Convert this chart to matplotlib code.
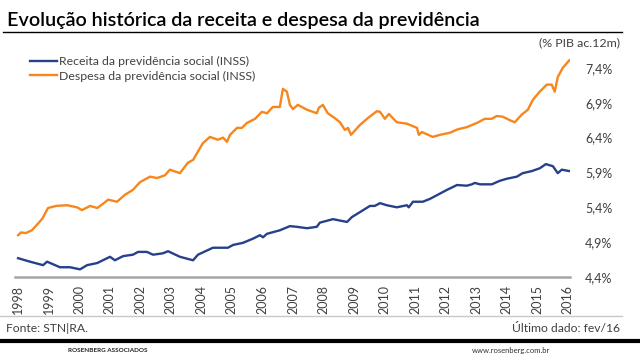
import matplotlib
matplotlib.use('Agg')
import matplotlib.pyplot as plt
from matplotlib.lines import Line2D

plt.rcParams['font.family'] = ['Lato', 'DejaVu Sans']

# ---------------------------------------------------------
# Data (% PIB, accumulated 12 months)
# ---------------------------------------------------------
desp_t = [1998.00, 1998.10, 1998.25, 1998.45, 1998.62, 1998.80, 1998.98, 1999.25, 1999.60,
          1999.93, 2000.09, 2000.36, 2000.59, 2000.78, 2000.95, 2001.24, 2001.50,
          2001.76, 2001.99, 2002.32, 2002.55, 2002.81, 2002.97, 2003.30, 2003.56,
          2003.73, 2004.05, 2004.28, 2004.54, 2004.71, 2004.84, 2004.94, 2005.17,
          2005.33, 2005.49, 2005.76, 2005.98, 2006.15, 2006.34, 2006.57, 2006.67,
          2006.80, 2006.90, 2007.00, 2007.16, 2007.46, 2007.78, 2007.85, 2007.98,
          2008.14, 2008.37, 2008.54, 2008.70, 2008.80, 2008.90, 2009.19, 2009.45,
          2009.75, 2009.85, 2010.01, 2010.14, 2010.40, 2010.73, 2011.06, 2011.12,
          2011.22, 2011.58, 2011.81, 2012.14, 2012.40, 2012.69, 2013.02, 2013.28,
          2013.51, 2013.67, 2013.87, 2014.10, 2014.26, 2014.49, 2014.69, 2014.85,
          2015.08, 2015.31, 2015.47, 2015.57, 2015.67, 2015.83, 2016.05]
desp_v = [5.00, 5.04, 5.03, 5.07, 5.15, 5.24, 5.39, 5.42, 5.43,
          5.40, 5.36, 5.42, 5.39, 5.45, 5.51, 5.48, 5.58,
          5.65, 5.76, 5.84, 5.82, 5.86, 5.94, 5.89, 6.04,
          6.08, 6.32, 6.41, 6.37, 6.40, 6.34, 6.44, 6.54,
          6.54, 6.61, 6.67, 6.77, 6.75, 6.84, 6.84, 7.10,
          7.06, 6.87, 6.81, 6.87, 6.80, 6.75, 6.83, 6.87,
          6.75, 6.68, 6.62, 6.51, 6.54, 6.44, 6.58, 6.68,
          6.78, 6.77, 6.67, 6.74, 6.62, 6.60, 6.54, 6.44,
          6.48, 6.41, 6.44, 6.47, 6.52, 6.55, 6.61, 6.67,
          6.67, 6.71, 6.70, 6.65, 6.62, 6.73, 6.80, 6.94,
          7.06, 7.16, 7.16, 7.06, 7.27, 7.40, 7.51]

rec_t = [1998.00, 1998.39, 1998.82, 1998.95, 1999.37, 1999.70, 2000.03, 2000.26, 2000.59,
         2001.01, 2001.17, 2001.44, 2001.76, 2001.93, 2002.22, 2002.42, 2002.74,
         2002.91, 2003.30, 2003.73, 2003.89, 2004.38, 2004.87, 2005.04, 2005.36,
         2005.69, 2005.92, 2006.02, 2006.15, 2006.57, 2006.90, 2007.13, 2007.46,
         2007.78, 2007.88, 2008.31, 2008.77, 2008.93, 2009.19, 2009.52, 2009.68,
         2009.85, 2010.07, 2010.40, 2010.73, 2010.79, 2010.93, 2011.25, 2011.48,
         2011.74, 2012.04, 2012.23, 2012.37, 2012.69, 2012.86, 2012.95, 2013.12,
         2013.51, 2013.77, 2014.00, 2014.33, 2014.52, 2014.82, 2015.08, 2015.28,
         2015.51, 2015.67, 2015.80, 2016.05]
rec_v = [4.67, 4.62, 4.57, 4.62, 4.54, 4.54, 4.51, 4.57, 4.60,
         4.69, 4.64, 4.70, 4.72, 4.76, 4.76, 4.72, 4.74,
         4.77, 4.69, 4.64, 4.72, 4.82, 4.82, 4.86, 4.89,
         4.95, 5.00, 4.97, 5.02, 5.07, 5.13, 5.12, 5.10,
         5.12, 5.18, 5.23, 5.19, 5.26, 5.33, 5.42, 5.42,
         5.46, 5.43, 5.40, 5.43, 5.40, 5.48, 5.48, 5.52,
         5.58, 5.65, 5.69, 5.72, 5.71, 5.73, 5.75, 5.73,
         5.73, 5.78, 5.81, 5.84, 5.89, 5.92, 5.96, 6.02,
         5.99, 5.89, 5.94, 5.92]

years = list(range(1998, 2017))
yticks = [4.4, 4.9, 5.4, 5.9, 6.4, 6.9, 7.4]

blue = '#26418a'
orange = '#f7861d'
txt = '#404040'

# %%
W, H = 640, 355
fig = plt.figure(figsize=(W / 100, H / 100), dpi=100)
fig.patch.set_facecolor('white')

def px(x, y):
    return x / W, 1 - y / H

# plot area: 1997.9 -> x=15, 2016.07 -> x=570 ; 4.4 -> y=277, 7.6 -> y=54
ax = fig.add_axes([15 / W, (H - 277) / H, 555 / W, (277 - 54) / H])
l1, = ax.plot(rec_t, rec_v, color=blue, lw=1.7, solid_joinstyle='round')
l2, = ax.plot(desp_t, desp_v, color=orange, lw=1.7, solid_joinstyle='round')
ax.set_xlim(1997.9, 2016.07)
ax.set_ylim(4.4, 7.6)

for s in ['top', 'left', 'right']:
    ax.spines[s].set_visible(False)
ax.spines['bottom'].set_color('#a6a6a6')
ax.spines['bottom'].set_linewidth(1.8)

ax.set_xticks(years)
ax.set_xticklabels([str(y) for y in years], rotation=90, fontsize=9,
                   color=txt, va='top', ha='center')
ax.yaxis.tick_right()
ax.set_yticks(yticks)
ax.set_yticklabels([f'{v:.1f}%'.replace('.', ',') for v in yticks],
                   fontsize=9, color=txt, ha='left')
ax.tick_params(axis='both', length=0)
ax.tick_params(axis='x', pad=6)
ax.tick_params(axis='y', pad=11)

fig.legend(handles=[l1, l2],
           labels=['Receita da previdência social (INSS)', 'Despesa da previdência social (INSS)'],
           loc='upper left', bbox_to_anchor=px(30, 56), frameon=False,
           fontsize=8.8, labelcolor=txt, handlelength=2.2, handletextpad=0.2,
           labelspacing=0.3, borderaxespad=0, borderpad=0)

# header
fig.text(*px(7, 26), 'Evolução histórica da receita e despesa da previdência',
         fontsize=14.2, color='black', weight='semibold', va='baseline', ha='left')
fig.add_artist(Line2D([3 / W, 622 / W], [1 - 32 / H] * 2, color='black', lw=1.0))
fig.text(*px(620, 43), '(% PIB ac.12m)', fontsize=8.9, color=txt, va='center', ha='right')

# footer
fig.add_artist(Line2D([0, 622 / W], [1 - 316 / H] * 2, color='#c8c8c8', lw=1.0))
fig.text(*px(6, 329), 'Fonte: STN|RA.', fontsize=8.7, color=txt, va='center', ha='left')
fig.text(*px(620, 329), 'Último dado: fev/16', fontsize=8.7, color=txt, va='center', ha='right')
fig.add_artist(Line2D([0, 1], [1 - 341 / H] * 2, color='black', lw=3.0))
fig.text(*px(68, 350), 'ROSENBERG ASSOCIADOS', fontsize=4.6, color='#222222',
         weight='bold', va='center', ha='left')
fig.text(*px(472, 350), 'www.rosenberg.com.br', fontsize=5.5, color='#333333',
         va='center', ha='left')

fig.savefig('out.png', dpi=100)
